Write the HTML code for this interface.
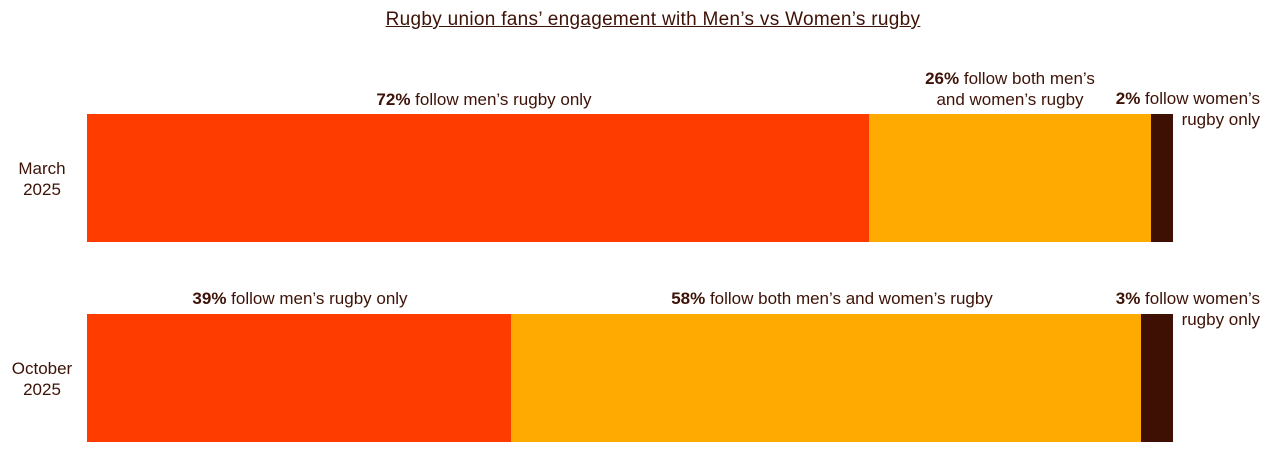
<!DOCTYPE html>
<html><head><style>
body{margin:0;width:1278px;height:459px;background:#fff;position:relative;overflow:hidden;font-family:"Liberation Sans",sans-serif;color:#3d1207;}
.a{position:absolute;}
.t{font-size:17px;line-height:21px;white-space:nowrap;}
b{font-weight:bold;}
</style></head><body>
<div class="a t" style="left:0;width:1306px;top:9px;text-align:center;text-decoration:underline;font-size:19px;letter-spacing:0.3px;">Rugby union fans’ engagement with Men’s vs Women’s rugby</div>

<div class="a" style="left:87px;top:114px;width:782px;height:128px;background:#ff3c00"></div>
<div class="a" style="left:869px;top:114px;width:282px;height:128px;background:#ffaa00"></div>
<div class="a" style="left:1151px;top:114px;width:22px;height:128px;background:#3d1003"></div>

<div class="a" style="left:87px;top:314px;width:424px;height:128px;background:#ff3c00"></div>
<div class="a" style="left:511px;top:314px;width:630px;height:128px;background:#ffaa00"></div>
<div class="a" style="left:1141px;top:314px;width:32px;height:128px;background:#3d1003"></div>

<div class="a t" style="left:0;width:84px;top:158px;text-align:center;">March<br>2025</div>
<div class="a t" style="left:0;width:84px;top:358px;text-align:center;">October<br>2025</div>

<div class="a t" style="left:284px;width:400px;top:89px;text-align:center;"><b>72%</b> follow men’s rugby only</div>
<div class="a t" style="left:860px;width:300px;top:68px;text-align:center;"><b>26%</b> follow both men’s<br>and women’s rugby</div>
<div class="a t" style="left:1060px;width:200px;top:88px;text-align:right;"><b>2%</b> follow women’s<br>rugby only</div>

<div class="a t" style="left:100px;width:400px;top:288px;text-align:center;"><b>39%</b> follow men’s rugby only</div>
<div class="a t" style="left:632px;width:400px;top:288px;text-align:center;"><b>58%</b> follow both men’s and women’s rugby</div>
<div class="a t" style="left:1060px;width:200px;top:288px;text-align:right;"><b>3%</b> follow women’s<br>rugby only</div>
</body></html>
